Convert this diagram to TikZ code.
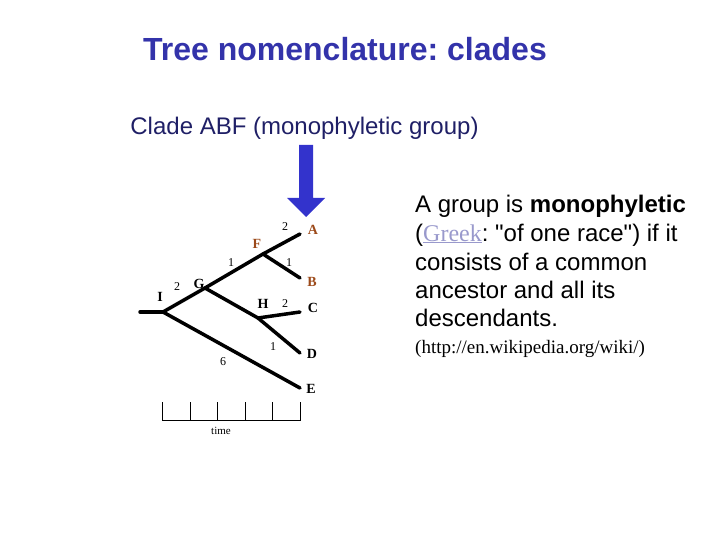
\documentclass[tikz,border=0pt]{standalone}
\usepackage{fontspec}
\setmainfont{Liberation Sans}[Ligatures=TeXOff]
\newfontfamily\serifface{Liberation Serif}
\frenchspacing
\definecolor{titleblue}{HTML}{3333AA}
\definecolor{cladeblue}{HTML}{1F1F66}
\definecolor{arrowblue}{HTML}{3333CC}
\definecolor{leafbrown}{HTML}{9C4A1A}
\definecolor{greeklink}{HTML}{9999CC}
\tikzset{
  branch/.style={line width=3.5pt, line cap=round},
  taxon/.style={font=\serifface\bfseries\fontsize{14}{16}\selectfont, inner sep=0pt},
  cladetaxon/.style={taxon, text=leafbrown},
  blen/.style={font=\serifface\fontsize{12}{14}\selectfont, inner sep=0pt},
  axisline/.style={line width=1pt},
  bodyline/.style={anchor=base west, inner sep=0pt, font=\fontsize{24}{28}\selectfont},
}
\begin{document}
\begin{tikzpicture}[x=1pt,y=-1pt]
\useasboundingbox (0,0) rectangle (720,540);
% titles
\node[anchor=base, inner sep=0pt, text=titleblue, font=\bfseries\fontsize{32}{36}\selectfont] (title) at (345,61) {Tree nomenclature: clades};
\node[anchor=base, inner sep=0pt, text=cladeblue, font=\fontsize{24}{28}\selectfont] (clade) at (304.5,135) {Clade ABF (monophyletic group)};
% arrow
\fill[arrowblue] (299,145) -- (313,145) -- (313,198) -- (325,198) -- (306,217) -- (287,198) -- (299,198) -- cycle;
% tree coordinates
\coordinate (root) at (140,312);
\coordinate (I) at (163,312);
\coordinate (G) at (205,288);
\coordinate (F) at (263,254);
\coordinate (H) at (258,318);
\coordinate (Atip) at (300,234);
\coordinate (Btip) at (300,278);
\coordinate (Ctip) at (300,312);
\coordinate (Dtip) at (300,353);
\coordinate (Etip) at (300,388);
\draw[branch] (root) -- (I);
\draw[branch] (I) -- (G);
\draw[branch] (G) -- (F);
\draw[branch] (F) -- (Atip);
\draw[branch] (F) -- (Btip);
\draw[branch] (G) -- (H);
\draw[branch] (H) -- (Ctip);
\draw[branch] (H) -- (Dtip);
\draw[branch] (I) -- (Etip);
% taxon labels
\node[cladetaxon] (lA) at (313,230) {A};
\node[cladetaxon] (lB) at (312,282) {B};
\node[cladetaxon] (lF) at (257,244) {F};
\node[taxon] (lC) at (313,308) {C};
\node[taxon] (lD) at (312,354) {D};
\node[taxon] (lE) at (311,389) {E};
\node[taxon] (lG) at (199,284) {G};
\node[taxon] (lH) at (263,304) {H};
\node[taxon] (lI) at (160,297) {I};
% branch lengths
\node[blen] (nFA) at (285,227) {2};
\node[blen] (nGF) at (231,263) {1};
\node[blen] (nFB) at (289,263) {1};
\node[blen] (nIG) at (177,287) {2};
\node[blen] (nHC) at (285,304) {2};
\node[blen] (nHD) at (273,347) {1};
\node[blen] (nIE) at (223,362) {6};
% time axis
\draw[axisline] (162,402) -- (162,420) -- (300,420) -- (300,402);
\foreach \tx in {190,217,245,272} \draw[axisline] (\tx,420) -- (\tx,402);
\node[inner sep=0pt, font=\serifface\fontsize{11}{13}\selectfont] (time) at (221,431) {time};
% right text
\node[bodyline] (t1) at (415,213) {A group is \textbf{monophyletic}};
\node[bodyline] (t2) at (415,241) {(\textcolor{greeklink}{\serifface\underline{Greek}}: "of one race") if it};
\node[bodyline] (t3) at (415,270) {consists of a common};
\node[bodyline] (t4) at (415,298) {ancestor and all its};
\node[bodyline] (t5) at (415,326) {descendants.};
\node[anchor=base west, inner sep=0pt, font=\serifface\fontsize{19}{22}\selectfont] (t6) at (415,353) {(http://en.wikipedia.org/wiki/)};
\end{tikzpicture}
\end{document}
